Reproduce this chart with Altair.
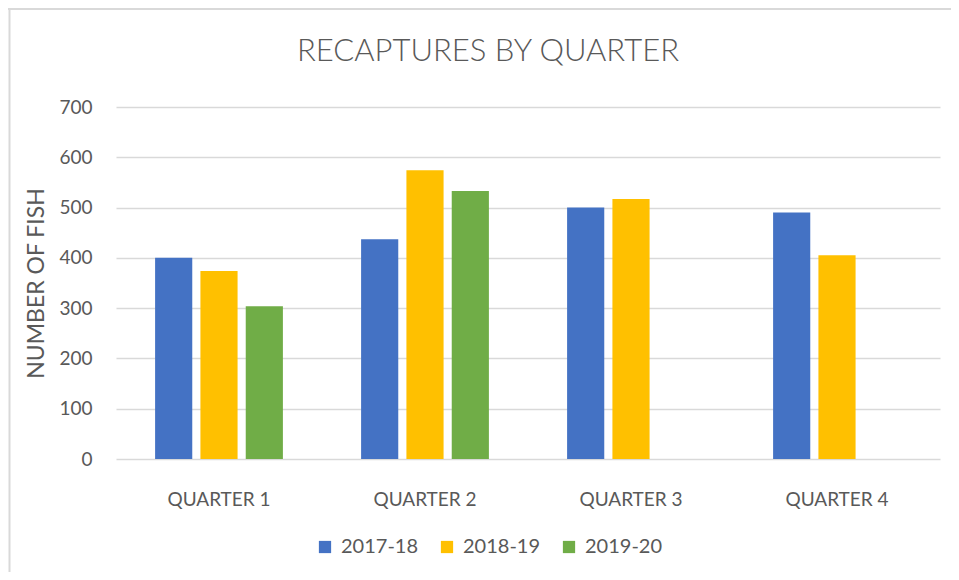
import altair as alt
import pandas as pd

quarters = ["QUARTER 1", "QUARTER 2", "QUARTER 3", "QUARTER 4"]
seasons = ["2017-18", "2018-19", "2019-20"]
s2017_18 = [400, 437, 500, 490]
s2018_19 = [374, 574, 517, 405]
s2019_20 = [304, 533, None, None]
colors = ["#4472C4", "#FFC000", "#70AD47"]
y_ticks = [0, 100, 200, 300, 400, 500, 600, 700]
title_text = "RECAPTURES BY QUARTER"

rows = []
for season, vals in zip(seasons, [s2017_18, s2018_19, s2019_20]):
    for q, v in zip(quarters, vals):
        if v is not None:
            rows.append({"quarter": q, "season": season, "fish": v})
df = pd.DataFrame(rows)

FONT = "Lato"
GRAY = "#595959"

bars = alt.Chart(df).mark_bar().encode(
    x=alt.X("quarter:N", sort=quarters,
            scale=alt.Scale(paddingInner=0.34, paddingOuter=0.17),
            axis=alt.Axis(title=None, labelAngle=0, ticks=False, domain=False,
                          labelFontSize=19, labelColor=GRAY, labelFont=FONT,
                          labelPadding=31)),
    xOffset=alt.XOffset("season:N", sort=seasons,
                        scale=alt.Scale(domain=seasons, paddingInner=0.18, paddingOuter=0.09)),
    y=alt.Y("fish:Q", scale=alt.Scale(domain=[0, 700], nice=False),
            axis=alt.Axis(title="NUMBER OF FISH", values=y_ticks, ticks=False, domain=False,
                          gridColor="#d9d9d9", gridWidth=1.6,
                          labelFontSize=19, labelColor=GRAY, labelFont=FONT, labelPadding=24,
                          titleFontSize=23, titleColor=GRAY, titleFont=FONT, titleFontWeight="normal",
                          titleX=-80, titleY=176, titleBaseline="middle", titleAngle=270)),
    color=alt.Color("season:N", sort=seasons,
                    scale=alt.Scale(domain=seasons, range=colors),
                    legend=alt.Legend(title=None, orient="none", direction="horizontal",
                                      legendX=199, legendY=430,
                                      symbolType="square", symbolSize=150, symbolStrokeWidth=0,
                                      labelFontSize=20, labelColor=GRAY, labelFont=FONT,
                                      labelOffset=6, columnPadding=18)),
)

frame_df = pd.DataFrame({"a": [0]})
top_line = alt.Chart(frame_df).mark_rule(color="#d9d9d9", strokeWidth=2).encode(
    x=alt.value(-108), x2=alt.value(835), y=alt.value(-98))
left_line = alt.Chart(frame_df).mark_rule(color="#d9d9d9", strokeWidth=2).encode(
    x=alt.value(-106.5), y=alt.value(-99), y2=alt.value(465))
title = alt.Chart(frame_df).mark_text(
    font=FONT, fontSize=31, fontWeight=300, color=GRAY, align="center", baseline="alphabetic"
).encode(x=alt.value(372), y=alt.value(-46), text=alt.value(title_text))

chart = alt.layer(bars, top_line, left_line, title).properties(
    width=824, height=352,
    autosize=alt.AutoSizeParams(type="none"),
    padding={"left": 108, "top": 99, "right": 11, "bottom": 113},
).configure_view(stroke=None)

chart.save("out.html", embed_options={"renderer": "svg", "actions": False})
